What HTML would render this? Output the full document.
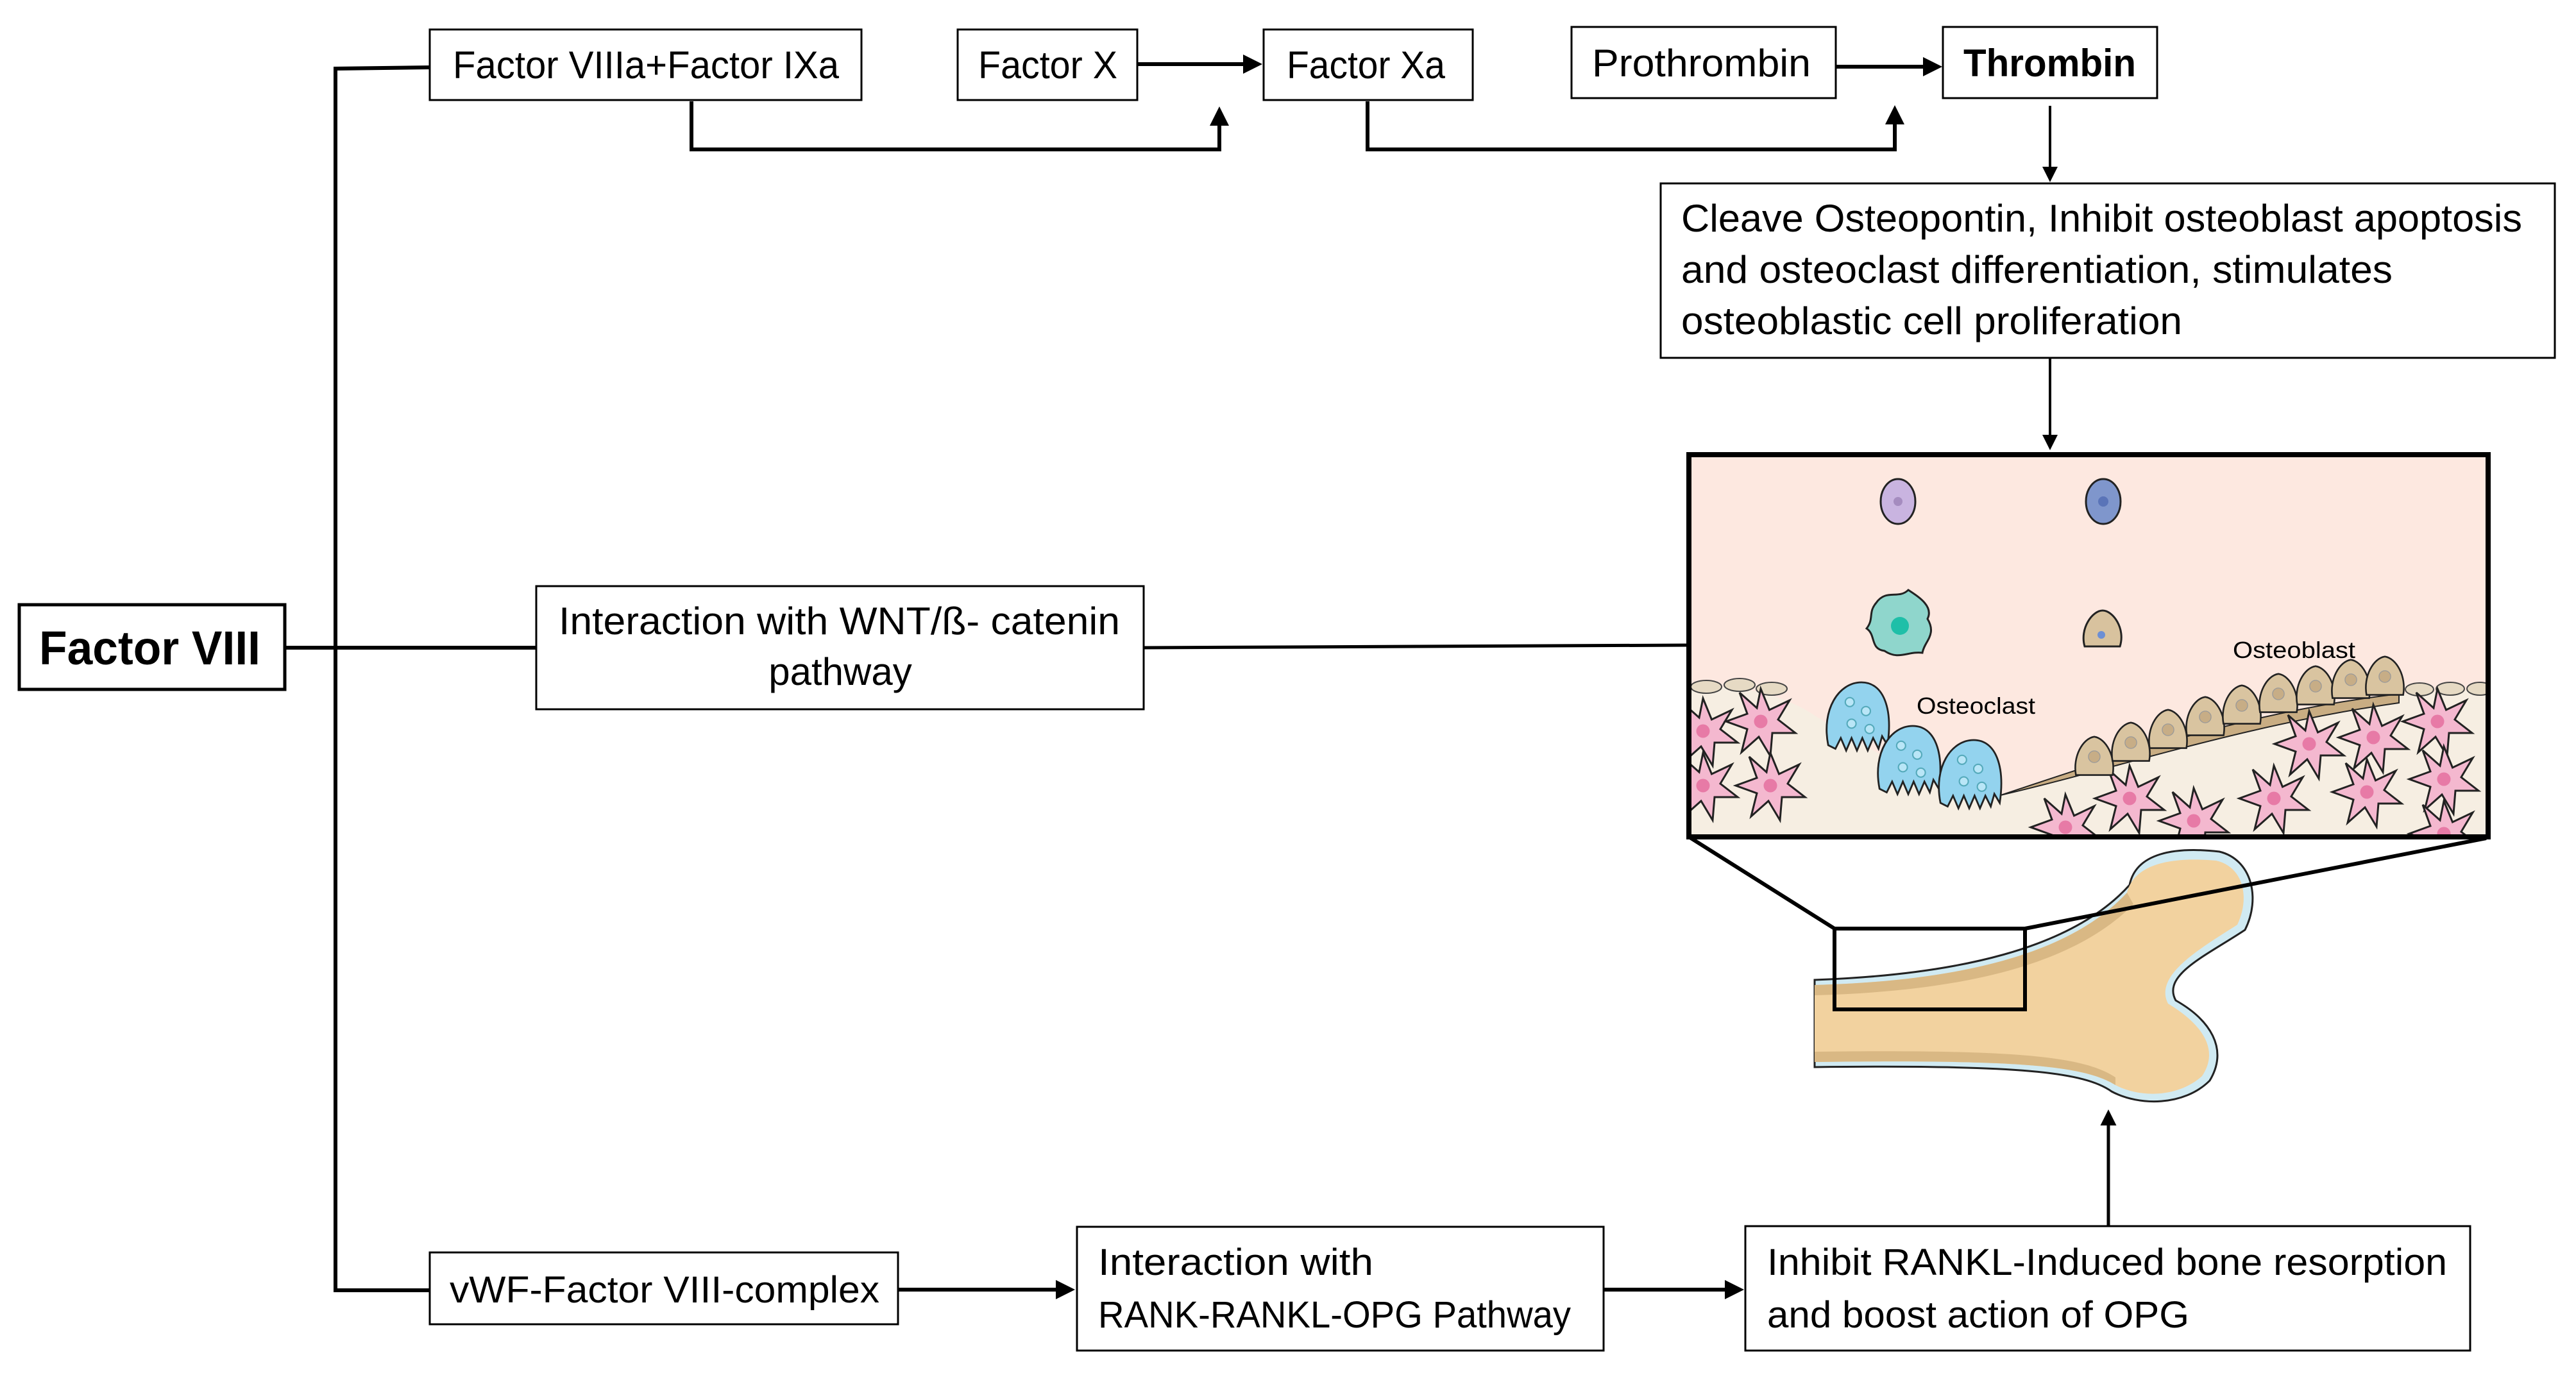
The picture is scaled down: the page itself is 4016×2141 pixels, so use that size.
<!DOCTYPE html>
<html><head><meta charset="utf-8"><style>
html,body{margin:0;padding:0;background:#fff}
svg{display:block}
text{font-family:"Liberation Sans",sans-serif;fill:#000}
</style></head><body>
<svg width="4016" height="2141" viewBox="0 0 4016 2141" xmlns="http://www.w3.org/2000/svg">
<defs>
<marker id="ah" markerWidth="6" markerHeight="6" refX="5" refY="3" orient="auto" markerUnits="strokeWidth"><path d="M0,0 L6,3 L0,6 z" fill="#000"/></marker>
<marker id="ah2" markerWidth="5" markerHeight="5" refX="4" refY="2.5" orient="auto" markerUnits="strokeWidth"><path d="M0,0 L5,2.5 L0,5 z" fill="#000"/></marker>
<clipPath id="pic"><rect x="2633" y="709" width="1246" height="596"/></clipPath>
<g id="star0"><path d="M0,-34 L9,-12 L30,-22 L18,-2 L36,12 L12,12 L10,36 L-2,16 L-20,32 L-14,8 L-36,0 L-14,-8 L-22,-30 L-4,-14 Z" fill="#f4b8cf" stroke="#222" stroke-width="2"/><circle r="7" fill="#e77aa6"/></g>
<g id="star"><use href="#star0" transform="scale(1.5)"/></g>
<g id="ob0"><path d="M-22,22 C-26,0 -14,-22 0,-24 C14,-22 26,0 22,22 Z" fill="#d9c4a0" stroke="#222" stroke-width="2"/><circle cy="0" r="7" fill="#c7ad86" stroke="#999" stroke-width="1"/></g>
<g id="ob"><use href="#ob0" transform="scale(1.3)"/></g>
<g id="oc0"><path d="M-32,30 C-40,-10 -20,-40 5,-40 C30,-40 40,-10 34,30 L28,20 L24,34 L18,22 L12,36 L6,22 L0,36 L-6,22 L-12,36 L-18,22 L-24,34 Z" fill="#93d3ee" stroke="#222" stroke-width="2"/><circle cx="-8" cy="-18" r="5" fill="#b9e6f7" stroke="#5ab" stroke-width="1.5"/><circle cx="10" cy="-8" r="5" fill="#b9e6f7" stroke="#5ab" stroke-width="1.5"/><circle cx="-6" cy="6" r="5" fill="#b9e6f7" stroke="#5ab" stroke-width="1.5"/><circle cx="14" cy="12" r="5" fill="#b9e6f7" stroke="#5ab" stroke-width="1.5"/></g>
<g id="oc"><use href="#oc0" transform="scale(1.4)"/></g>
</defs>

<g stroke="#000" fill="none" stroke-width="6">
<path d="M674,105 L523,107 L523,2012 L670,2012"/>
<line x1="444" y1="1010" x2="836" y2="1010"/>
<line x1="1783" y1="1010" x2="2633" y2="1006" stroke-width="5"/>
</g>

<g fill="#fff" stroke="#000" stroke-width="3">
<rect x="670" y="46" width="673" height="110"/>
<rect x="1493" y="46" width="280" height="110"/>
<rect x="1970" y="46" width="326" height="110"/>
<rect x="2450" y="42" width="412" height="111"/>
<rect x="3029" y="42" width="334" height="111"/>
<rect x="2589" y="286" width="1394" height="272"/>
<rect x="30" y="943" width="414" height="132" stroke-width="5"/>
<rect x="836" y="914" width="947" height="192"/>
<rect x="670" y="1953" width="730" height="112"/>
<rect x="1679" y="1913" width="821" height="193"/>
<rect x="2721" y="1912" width="1130" height="194"/>
</g>

<g stroke="#000" fill="none">
<line x1="1773" y1="100" x2="1962" y2="100" stroke-width="6" marker-end="url(#ah2)"/>
<path d="M1078,158 L1078,233 L1901,233 L1901,172" stroke-width="6" marker-end="url(#ah2)"/>
<line x1="2862" y1="104" x2="3022" y2="104" stroke-width="6" marker-end="url(#ah2)"/>
<path d="M2132,158 L2132,233 L2954,233 L2954,170" stroke-width="6" marker-end="url(#ah2)"/>
<line x1="3196" y1="165" x2="3196" y2="280" stroke-width="4" marker-end="url(#ah)"/>
<line x1="3196" y1="558" x2="3196" y2="698" stroke-width="4" marker-end="url(#ah)"/>
<line x1="1400" y1="2011" x2="1670" y2="2011" stroke-width="6" marker-end="url(#ah2)"/>
<line x1="2500" y1="2011" x2="2713" y2="2011" stroke-width="6" marker-end="url(#ah2)"/>
<line x1="3287" y1="1912" x2="3287" y2="1735" stroke-width="5" marker-end="url(#ah2)"/>
</g>

<text x="706" y="122" font-size="60" textLength="602" lengthAdjust="spacingAndGlyphs">Factor VIIIa+Factor IXa</text>
<text x="1525" y="122" font-size="60" textLength="217" lengthAdjust="spacingAndGlyphs">Factor X</text>
<text x="2006" y="122" font-size="60" textLength="247" lengthAdjust="spacingAndGlyphs">Factor Xa</text>
<text x="2482" y="119" font-size="60" textLength="341" lengthAdjust="spacingAndGlyphs">Prothrombin</text>
<text x="3061" y="119" font-size="60" font-weight="bold" textLength="269" lengthAdjust="spacingAndGlyphs">Thrombin</text>
<text x="2621" y="361" font-size="60" textLength="1311" lengthAdjust="spacingAndGlyphs">Cleave Osteopontin, Inhibit osteoblast apoptosis</text>
<text x="2621" y="441" font-size="60" textLength="1109" lengthAdjust="spacingAndGlyphs">and osteoclast differentiation, stimulates</text>
<text x="2621" y="521" font-size="60" textLength="781" lengthAdjust="spacingAndGlyphs">osteoblastic cell proliferation</text>
<text x="61" y="1036" font-size="74" font-weight="bold" textLength="345" lengthAdjust="spacingAndGlyphs">Factor VIII</text>
<text x="871" y="989" font-size="60" textLength="875" lengthAdjust="spacingAndGlyphs">Interaction with WNT/ß- catenin</text>
<text x="1310" y="1068" font-size="60" text-anchor="middle">pathway</text>
<text x="701" y="2031" font-size="58" textLength="670" lengthAdjust="spacingAndGlyphs">vWF-Factor VIII-complex</text>
<text x="1712" y="1988" font-size="58" textLength="429" lengthAdjust="spacingAndGlyphs">Interaction with</text>
<text x="1712" y="2070" font-size="58" textLength="737" lengthAdjust="spacingAndGlyphs">RANK-RANKL-OPG Pathway</text>
<text x="2755" y="1988" font-size="58" textLength="1060" lengthAdjust="spacingAndGlyphs">Inhibit RANKL-Induced bone resorption</text>
<text x="2755" y="2070" font-size="58" textLength="658" lengthAdjust="spacingAndGlyphs">and boost action of OPG</text>

<rect x="2633" y="709" width="1246" height="596" fill="#fde8e0"/>
<g clip-path="url(#pic)">
<path d="M2633,1072 C2700,1068 2760,1075 2820,1110 C2900,1160 3020,1235 3119,1240 C3300,1180 3500,1110 3740,1082 L3879,1075 L3879,1310 L2633,1310 Z" fill="#f6eee2"/>
<path d="M3119,1240 C3300,1180 3500,1110 3740,1082 L3740,1096 C3500,1130 3300,1198 3119,1240 Z" fill="#c9ad83" stroke="#222" stroke-width="2"/>
<g fill="#e6dac4" stroke="#444" stroke-width="2">
<ellipse cx="2660" cy="1071" rx="24" ry="10"/><ellipse cx="2712" cy="1068" rx="24" ry="10"/><ellipse cx="2762" cy="1074" rx="24" ry="10"/>
<ellipse cx="3772" cy="1075" rx="22" ry="10"/><ellipse cx="3820" cy="1074" rx="22" ry="10"/><ellipse cx="3866" cy="1074" rx="20" ry="10"/>
</g>
<use href="#star" x="2655" y="1140"/><use href="#star" x="2745" y="1125"/><use href="#star" x="2655" y="1225"/><use href="#star" x="2760" y="1225"/>
<use href="#star" x="3220" y="1290"/><use href="#star" x="3320" y="1245"/><use href="#star" x="3420" y="1280"/><use href="#star" x="3545" y="1245"/>
<use href="#star" x="3600" y="1160"/><use href="#star" x="3700" y="1150"/><use href="#star" x="3800" y="1125"/><use href="#star" x="3690" y="1235"/><use href="#star" x="3810" y="1215"/><use href="#star" x="3810" y="1300"/>
<use href="#oc" x="2895" y="1120"/><use href="#oc" x="2975" y="1188"/><use href="#oc" x="3070" y="1210"/>
<use href="#ob" x="3265" y="1180"/><use href="#ob" x="3322" y="1158"/><use href="#ob" x="3380" y="1138"/><use href="#ob" x="3438" y="1118"/><use href="#ob" x="3495" y="1100"/><use href="#ob" x="3552" y="1082"/><use href="#ob" x="3610" y="1070"/><use href="#ob" x="3665" y="1060"/><use href="#ob" x="3718" y="1055"/>
</g>
<ellipse cx="2959" cy="782" rx="27" ry="35" fill="#c9b4e0" stroke="#222" stroke-width="3"/><circle cx="2959" cy="782" r="7" fill="#a58cbf"/>
<ellipse cx="3279" cy="782" rx="27" ry="35" fill="#7f96cc" stroke="#222" stroke-width="3"/><circle cx="3279" cy="782" r="8" fill="#5a74b8"/>
<path d="M2925,940 C2940,918 2960,935 2975,920 C2990,930 3015,945 3005,965 C3020,990 3000,1000 2997,1018 C2975,1015 2960,1030 2938,1015 C2915,1012 2925,990 2910,980 C2922,965 2912,955 2925,940 Z" fill="#8fd6cc" stroke="#222" stroke-width="3"/><circle cx="2962" cy="976" r="14" fill="#1fbfa8"/>
<path d="M3250,1008 C3242,980 3262,952 3278,952 C3294,952 3314,980 3305,1008 Z" fill="#d8c29e" stroke="#222" stroke-width="3"/><circle cx="3276" cy="990" r="6" fill="#6d8fd4"/>
<text x="3481" y="1026" font-size="36" textLength="191" lengthAdjust="spacingAndGlyphs">Osteoblast</text>
<text x="2988" y="1113" font-size="36" textLength="185" lengthAdjust="spacingAndGlyphs">Osteoclast</text>
<rect x="2633" y="709" width="1246" height="596" fill="none" stroke="#000" stroke-width="8"/>

<path d="M2829,1528 C3050,1520 3230,1480 3320,1380 C3330,1330 3390,1320 3460,1328 C3510,1340 3525,1400 3500,1450 C3440,1490 3370,1520 3392,1560 C3445,1590 3475,1635 3445,1685 C3405,1725 3335,1725 3292,1702 C3250,1672 3150,1660 2829,1664 Z" fill="#d0eaf2" stroke="#222" stroke-width="3"/>
<path d="M2829,1536 C3050,1530 3225,1490 3316,1392 C3328,1345 3390,1336 3455,1342 C3498,1352 3508,1400 3488,1442 C3425,1482 3358,1522 3380,1565 C3430,1595 3462,1635 3433,1678 C3395,1712 3335,1712 3298,1692 C3250,1662 3150,1652 2829,1656 Z" fill="#f2d29f"/>
<path d="M2829,1536 C3050,1530 3225,1490 3316,1392 L3326,1410 C3230,1508 3050,1546 2829,1552 Z" fill="#d9b884"/>
<path d="M2829,1640 C3150,1636 3250,1648 3298,1680 L3298,1692 C3250,1662 3150,1652 2829,1656 Z" fill="#d9b884"/>
<rect x="2860" y="1448" width="297" height="126" fill="none" stroke="#000" stroke-width="6"/>
<line x1="2633" y1="1305" x2="2860" y2="1448" stroke="#000" stroke-width="6"/>
<line x1="3876" y1="1307" x2="3157" y2="1448" stroke="#000" stroke-width="6"/>
</svg>
</body></html>
